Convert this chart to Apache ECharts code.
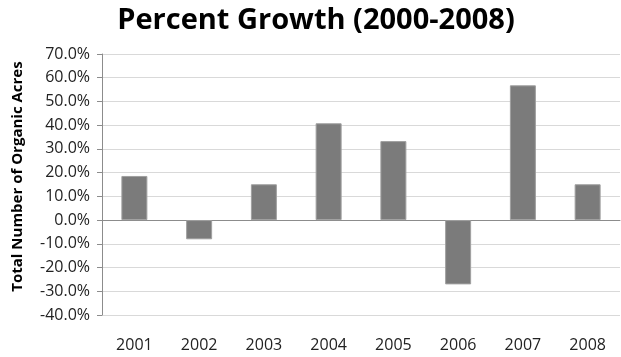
<!DOCTYPE html>
<html><head><meta charset="utf-8">
<script src="https://cdn.jsdelivr.net/npm/echarts@6/dist/echarts.min.js"></script>
<style>html,body{margin:0;padding:0;background:#fff}#c{width:621px;height:357px}</style>
</head><body><div id="c"></div>
<script>
const categories = ['2001','2002','2003','2004','2005','2006','2007','2008'];
const growth = [18.6, -8.1, 15.1, 40.8, 33.3, -27.1, 56.8, 15.1];
const yTicks = {min: -40, max: 70, interval: 10};
const chart = echarts.init(document.getElementById('c'), null, {renderer: 'canvas'});
chart.setOption({
  animation: false,
  title: {
    text: 'Percent Growth (2000-2008)', left: 311, top: 1, textAlign: 'center',
    textStyle: {fontFamily: 'Open Sans', fontWeight: 'bold', fontSize: 29, color: '#000'}
  },
  grid: {left: 102, right: 1, top: 54, bottom: 42},
  xAxis: {
    type: 'category', data: categories,
    axisLine: {onZero: true, lineStyle: {color: '#8c8c8c', width: 1}},
    axisTick: {show: false},
    axisLabel: {color: '#222', fontFamily: 'Open Sans', fontSize: 16, margin: 22}
  },
  yAxis: {
    type: 'value', min: yTicks.min, max: yTicks.max, interval: yTicks.interval,
    name: 'Total Number of Organic Acres', nameLocation: 'middle', nameGap: 77,
    nameTextStyle: {fontFamily: 'Open Sans', fontWeight: 'bold', fontSize: 15, color: '#000', padding: [0, 0, 0, 16]},
    axisLine: {show: true, lineStyle: {color: '#8c8c8c'}},
    axisTick: {show: true, length: 5, lineStyle: {color: '#8c8c8c'}},
    axisLabel: {color: '#222', fontFamily: 'Open Sans', fontSize: 16, margin: 12,
      formatter: v => v.toFixed(1) + '%'},
    splitLine: {lineStyle: {color: '#d9d9d9'}}
  },
  series: [{
    type: 'bar', data: growth, barWidth: 26,
    itemStyle: {color: '#7b7b7b', borderColor: '#a0a0a0', borderWidth: 1}
  }]
});
</script></body></html>
